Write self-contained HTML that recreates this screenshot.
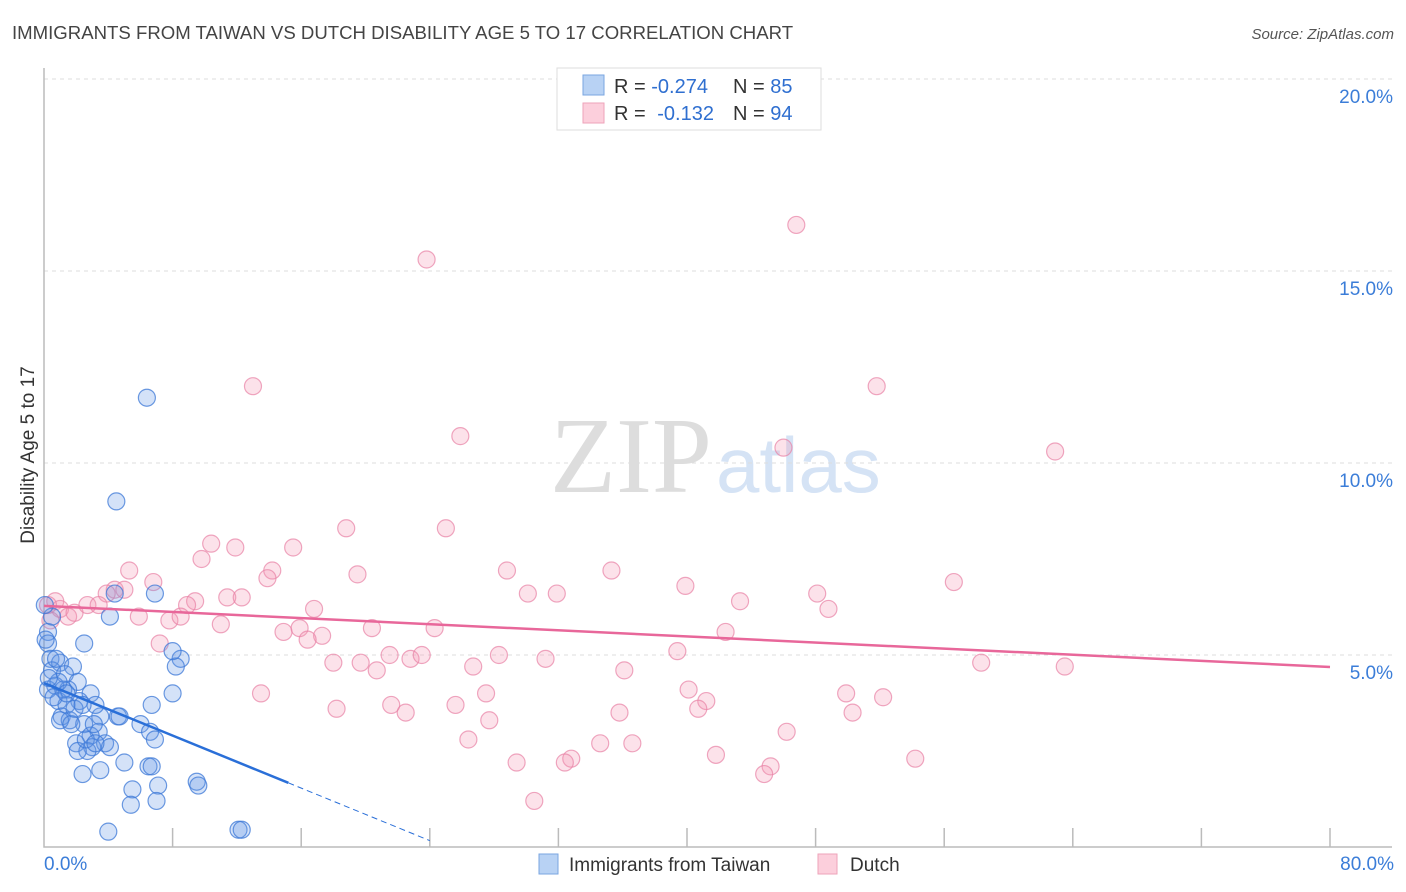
<!DOCTYPE html>
<html><head><meta charset="utf-8"><style>
body{margin:0;background:#fff;font-family:"Liberation Sans",sans-serif}
svg{display:block}
</style></head><body>
<svg id="chart" width="1406" height="892">
<text x="12" y="39" font-size="18.6" fill="#444">IMMIGRANTS FROM TAIWAN VS DUTCH DISABILITY AGE 5 TO 17 CORRELATION CHART</text>
<text x="1394" y="39" font-size="15" fill="#555" font-style="italic" text-anchor="end">Source: ZipAtlas.com</text>
<text x="712" y="492" font-size="108" fill="#ddd" text-anchor="end" font-family="Liberation Serif">ZIP</text>
<text x="716" y="492" font-size="78" fill="#d5e3f5">atlas</text>
<g id="grid"></g>
<g id="pts"></g>
<g id="lines"></g>
<text x="-455" y="34" transform="rotate(-90)" font-size="19" fill="#333" text-anchor="middle">Disability Age 5 to 17</text>
<g>
<rect x="557" y="68" width="264" height="62" fill="#fff" stroke="#ddd"/>
<rect x="583" y="75" width="21" height="20" fill="#b8d2f4" stroke="#7aa6e0"/>
<rect x="583" y="103" width="21" height="20" fill="#fccfdc" stroke="#eea3ba"/>
<text x="614" y="93" font-size="20" fill="#333">R = <tspan fill="#2f6fd0">-0.274</tspan><tspan x="733">N = </tspan><tspan fill="#2f6fd0">85</tspan></text>
<text x="614" y="120" font-size="20" fill="#333">R = <tspan fill="#2f6fd0" dx="6">-0.132</tspan><tspan x="733">N = </tspan><tspan fill="#2f6fd0">94</tspan></text>
</g>
<g>
<rect x="539" y="854" width="19" height="20" fill="#b8d2f4" stroke="#7aa6e0"/>
<text x="569" y="871" font-size="19" fill="#333">Immigrants from Taiwan</text>
<rect x="818" y="854" width="19" height="20" fill="#fccfdc" stroke="#eea3ba"/>
<text x="850" y="871" font-size="19" fill="#333">Dutch</text>
</g>
</svg>
<script>
const yTicks=[5,10,15,20];
const xTickLabels=["0.0%","80.0%"];
const blueX=[6.4,4.5,6.9,4.4,4.1,2.5,0.25,0.25,0.4,1.0,1.8,0.5,1.3,2.1,0.7,1.5,2.9,0.25,0.9,2.2,1.4,3.5,4.6,6.0,6.7,8.0,8.5,8.2,8.0,1.1,1.6,2.5,3.4,2.9,3.8,2.0,3.0,2.7,2.1,6.6,6.9,5.0,6.5,6.7,2.4,3.5,9.5,9.6,5.5,7.1,5.4,7.0,4.0,12.1,12.3,0.5,0.1,1.0,1.7,4.1,4.7,3.2,0.05,0.75,1.2,1.9,2.6,3.2,2.4,3.1,0.9,0.3,0.6,1.4];
const blueY=[11.7,9.0,6.6,6.6,6.0,5.3,5.6,5.3,4.9,4.8,4.7,4.6,4.5,4.3,4.2,4.1,4.0,4.1,3.8,3.8,3.7,3.4,3.4,3.2,3.7,4.0,4.9,4.7,5.1,3.4,3.3,3.2,3.0,2.9,2.7,2.7,2.6,2.5,2.5,3.0,2.8,2.2,2.1,2.1,1.9,2.0,1.7,1.6,1.5,1.6,1.1,1.2,0.4,0.45,0.45,6.0,5.4,3.3,3.2,2.6,3.4,3.7,6.3,4.9,4.1,3.6,2.8,2.7,3.7,3.2,4.3,4.4,3.9,4.0];
const pinkX=[46.8,23.8,13.0,51.8,25.9,46.0,62.9,18.8,25.0,10.4,11.9,15.5,9.8,5.3,19.5,28.8,35.3,14.2,13.9,6.8,4.4,5.0,3.9,30.1,31.9,39.9,48.1,56.6,11.4,12.3,9.4,8.9,43.3,48.8,16.8,5.9,7.8,8.5,11.0,24.3,20.4,14.9,15.9,17.3,16.4,42.4,7.2,18.0,19.7,21.5,22.8,23.5,28.3,31.2,39.4,26.7,20.7,36.1,58.3,63.5,13.5,27.5,40.1,49.9,52.2,41.2,40.7,18.2,21.6,22.5,25.6,35.8,50.3,27.7,46.2,26.4,34.6,36.6,32.8,32.4,29.4,41.8,54.2,45.2,44.8,30.5,0.7,1.0,1.5,1.9,2.7,3.4,0.4,0.25];
const pinkY=[16.2,15.3,12.0,12.0,10.7,10.4,10.3,8.3,8.3,7.9,7.8,7.8,7.5,7.2,7.1,7.2,7.2,7.2,7.0,6.9,6.7,6.7,6.6,6.6,6.6,6.8,6.6,6.9,6.5,6.5,6.4,6.3,6.4,6.2,6.2,6.0,5.9,6.0,5.8,5.7,5.7,5.6,5.7,5.5,5.4,5.6,5.3,4.8,4.8,5.0,4.9,5.0,5.0,4.9,5.1,4.7,4.6,4.6,4.8,4.7,4.0,4.0,4.1,4.0,3.9,3.8,3.6,3.6,3.7,3.5,3.7,3.5,3.5,3.3,3.0,2.8,2.7,2.7,2.3,2.2,2.2,2.4,2.3,2.1,1.9,1.2,6.4,6.2,6.0,6.1,6.3,6.3,5.9,6.3];
const blueTrend=[4.27,-0.171]; const pinkTrend=[6.28,-0.0199];
const X=v=>44+v*(1286/80), Y=v=>847-v*38.4;
const NS="http://www.w3.org/2000/svg";
function mk(tag,attrs,parent){const e=document.createElementNS(NS,tag);for(const k in attrs)e.setAttribute(k,attrs[k]);parent.appendChild(e);return e;}
const grid=document.getElementById('grid');
yTicks.forEach(t=>{
 const l=mk('line',{x1:44,x2:1392,y1:Y(t),y2:Y(t),stroke:'#ddd','stroke-dasharray':'4,4'},grid);
 
 
 const tx=mk('text',{x:1393,y:Y(t)+24,'font-size':19,fill:'#3b7dd8','text-anchor':'end'},grid);
 tx.textContent=t.toFixed(1)+'%';
 
 
});
const ax=mk('path',{d:'M44 68V847H1392',fill:'none',stroke:'#bbb','stroke-width':1.5},grid);


for(let i=1;i<=10;i++){const t=mk('line',{x1:X(i*8),x2:X(i*8),y1:828,y2:847,stroke:'#bbb','stroke-width':1.5},grid);
 
 }
const xl0=mk('text',{x:44,y:870,'font-size':19,fill:'#3b7dd8'},grid);xl0.textContent=xTickLabels[0];


const xl1=mk('text',{x:1394,y:870,'font-size':19,fill:'#3b7dd8','text-anchor':'end'},grid);xl1.textContent=xTickLabels[1];


const pts=document.getElementById('pts');
pinkX.forEach((x,i)=>{const c=mk('circle',{cx:X(x),cy:Y(pinkY[i]),r:8.5,fill:'rgba(244,150,180,0.28)',stroke:'rgba(232,130,165,0.7)','stroke-width':1.2},pts);
 
 });
blueX.forEach((x,i)=>{const c=mk('circle',{cx:X(x),cy:Y(blueY[i]),r:8.5,fill:'rgba(100,150,230,0.28)',stroke:'rgba(60,120,215,0.75)','stroke-width':1.2},pts);
 
 });
const lines=document.getElementById('lines');
const pl=mk('line',{x1:X(0),y1:Y(pinkTrend[0]),x2:X(80),y2:Y(pinkTrend[0]+80*pinkTrend[1]),stroke:'#e8679a','stroke-width':2.5},lines);


const bl=mk('line',{x1:X(0),y1:Y(blueTrend[0]),x2:X(15.2),y2:Y(blueTrend[0]+15.2*blueTrend[1]),stroke:'#2a6fd8','stroke-width':2.5},lines);


const bd=mk('line',{x1:X(15.2),y1:Y(blueTrend[0]+15.2*blueTrend[1]),x2:X(24),y2:Y(blueTrend[0]+24*blueTrend[1]),stroke:'#2a6fd8','stroke-width':1,'stroke-dasharray':'6,4'},lines);


</script>
</body></html>
